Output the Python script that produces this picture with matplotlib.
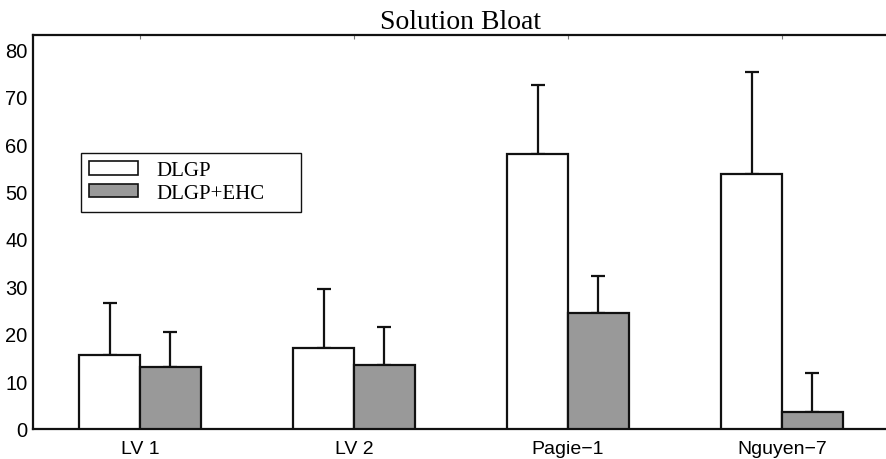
import matplotlib
matplotlib.use("Agg")
import matplotlib.pyplot as plt
import numpy as np
from matplotlib.patches import Patch, Rectangle

categories = ["LV 1", "LV 2", "Pagie\u22121", "Nguyen\u22127"]
dlgp_mean = [15.5, 16.9, 57.8, 53.6]
dlgp_err = [10.9, 12.6, 14.6, 21.7]
ehc_mean = [13.0, 13.4, 24.3, 3.5]
ehc_err = [7.3, 8.1, 7.8, 8.2]
series_labels = ["DLGP", "DLGP+EHC"]
y_ticks = [0, 10, 20, 30, 40, 50, 60, 70, 80]

W, H = 887, 460
fig = plt.figure(figsize=(W / 100, H / 100), dpi=100)
ax = fig.add_axes([33 / W, 30.5 / H, 856 / W, 393.5 / H])

x = np.arange(1, len(categories) + 1)
w = 0.285
grey = "#999999"

ax.bar(x - w / 2, dlgp_mean, width=w, color="white", edgecolor="#111111",
       linewidth=1.6, zorder=3)
ax.bar(x + w / 2, ehc_mean, width=w, color=grey, edgecolor="#111111",
       linewidth=1.6, zorder=3)

err_kw = dict(fmt="none", ecolor="#111111", elinewidth=1.6, capsize=4.8,
              capthick=1.6, zorder=2)
ax.errorbar(x - w / 2, dlgp_mean, yerr=[np.zeros(len(x)), dlgp_err], **err_kw)
ax.errorbar(x + w / 2, ehc_mean, yerr=[np.zeros(len(x)), ehc_err], **err_kw)

ax.set_xlim(0.5, 4.5)
ax.set_ylim(0, 83)
ax.set_xticks(x)
ax.set_xticklabels(categories, fontsize=14, family="Liberation Sans")
ax.set_yticks(y_ticks)
ax.set_yticklabels([str(t) for t in y_ticks], fontsize=14.5, family="Liberation Sans")
ax.tick_params(axis="y", length=0, pad=4)
ax.tick_params(axis="x", direction="in", length=3, width=0.8, top=True, pad=8,
               color="#777777")

for side in ["left", "bottom", "top", "right"]:
    ax.spines[side].set_linewidth(1.6)
    ax.spines[side].set_color("#111111")

ax.set_title("Solution Bloat", family="Liberation Serif", fontsize=20, pad=5)

# legend entries without a frame, boxed by a separate rectangle
handles = [Patch(facecolor="white", edgecolor="#111111", linewidth=1.2),
           Patch(facecolor=grey, edgecolor="#111111", linewidth=1.2)]
leg = ax.legend(handles, series_labels, loc="upper left",
                bbox_to_anchor=(89 / W, 1 - 162 / H),
                bbox_transform=fig.transFigure,
                prop={"family": "Liberation Serif", "size": 15},
                frameon=False, borderpad=0, borderaxespad=0,
                handlelength=2.35, handleheight=0.62, handletextpad=0.9,
                labelspacing=0.17)
box = Rectangle((80.7 / W, 1 - 213 / H), 220 / W, 59 / H,
                transform=fig.transFigure, facecolor="white",
                edgecolor="#111111", linewidth=1.0, zorder=4)
ax.add_artist(box)
box.set_clip_on(False)
leg.set_zorder(5)

fig.savefig("out.png", dpi=100)
